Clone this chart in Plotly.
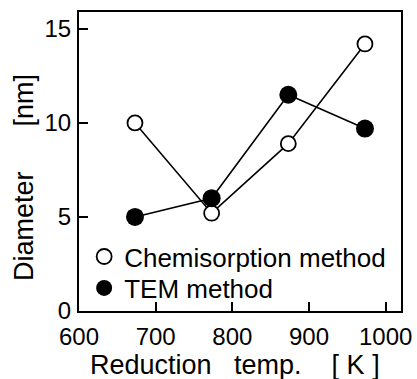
import plotly.graph_objects as go

temps = [673, 773, 873, 973]
chemisorption = [10.0, 5.2, 8.9, 14.2]
tem = [5.0, 6.0, 11.5, 9.7]

x_ticks = [600, 700, 800, 900, 1000]
y_ticks = [0, 5, 10, 15]

FONT = "Liberation Sans"
NB = "\u00a0"
x_title = "Reduction" + NB * 3 + "temp." + NB * 4 + "[" + NB + "K" + NB + "]"
y_title = "Diameter" + NB * 6 + "[nm]"

fig = go.Figure()
fig.add_trace(go.Scatter(x=temps, y=chemisorption, mode="lines",
                         line=dict(color="black", width=1.6), showlegend=False, hoverinfo="skip"))
fig.add_trace(go.Scatter(x=temps, y=tem, mode="lines",
                         line=dict(color="black", width=1.6), showlegend=False, hoverinfo="skip"))
fig.add_trace(go.Scatter(x=temps, y=chemisorption, mode="markers", name="Chemisorption method",
                         legend="legend",
                         marker=dict(symbol="circle", size=15, color="white",
                                     line=dict(color="black", width=1.8))))
fig.add_trace(go.Scatter(x=temps, y=tem, mode="markers", name="TEM method",
                         legend="legend2",
                         marker=dict(symbol="circle", size=18, color="black",
                                     line=dict(color="black", width=0))))

leg_common = dict(xanchor="left", yanchor="middle", font=dict(size=26, family=FONT),
                  bgcolor="rgba(0,0,0,0)", itemsizing="trace")

fig.update_layout(
    width=417, height=379,
    margin=dict(l=79, r=16, t=12, b=68),
    paper_bgcolor="white", plot_bgcolor="white",
    font=dict(family=FONT, color="black"),
    legend=dict(x=0.016, y=0.182, **leg_common),
    legend2=dict(x=0.016, y=0.077, **leg_common),
    xaxis=dict(range=[600, 1020], tickvals=x_ticks, ticks="inside", ticklen=9,
               tickwidth=1.5, tickcolor="black", showgrid=False, zeroline=False,
               showline=True, linecolor="black", linewidth=2, mirror=True,
               tickfont=dict(size=24, family=FONT), ticklabelstandoff=3,
               automargin=False),
    yaxis=dict(range=[0, 15.9], tickvals=y_ticks, ticks="inside", ticklen=9,
               tickwidth=1.5, tickcolor="black", showgrid=False, zeroline=False,
               showline=True, linecolor="black", linewidth=2, mirror=True,
               tickfont=dict(size=24, family=FONT), ticklabelstandoff=1,
               automargin=False),
    annotations=[
        dict(text=x_title, xref="paper", yref="paper", x=0.4845, y=-0.179,
             xanchor="center", yanchor="middle", showarrow=False,
             font=dict(size=27, family=FONT, color="black")),
        dict(text=y_title, xref="paper", yref="paper", x=-0.171, y=0.448,
             xanchor="center", yanchor="middle", showarrow=False, textangle=-90,
             font=dict(size=27, family=FONT, color="black")),
    ],
)

fig.write_html("out.html")
